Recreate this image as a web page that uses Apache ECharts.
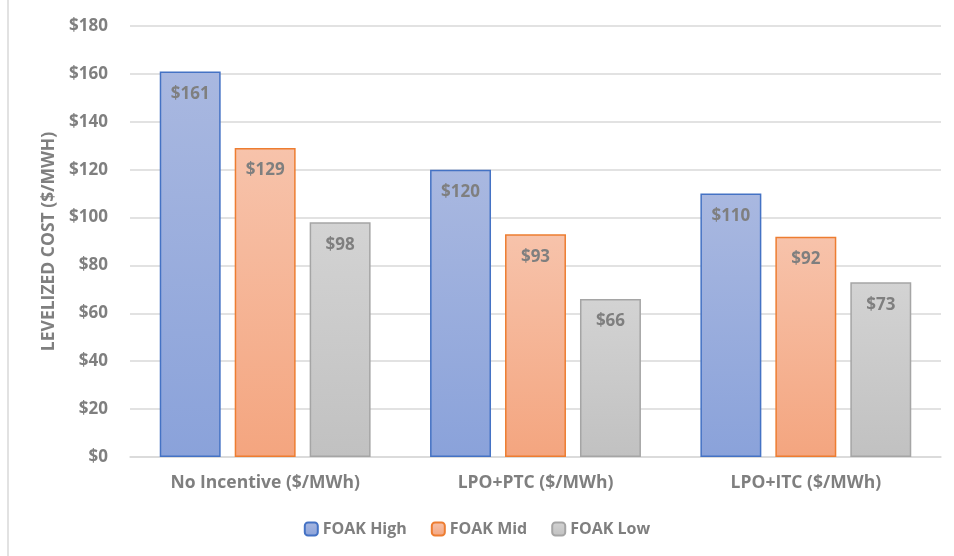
<!DOCTYPE html>
<html>
<head>
<meta charset="utf-8">
<script src="https://cdn.jsdelivr.net/npm/echarts@6/dist/echarts.min.js"></script>
<style>
  html, body { margin: 0; padding: 0; background: #fff; }
  #chart { width: 954px; height: 556px; }
</style>
</head>
<body>
<div id="chart"></div>
<script>
// data
var categories = ['No Incentive ($/MWh)', 'LPO+PTC ($/MWh)', 'LPO+ITC ($/MWh)'];
var foakHigh = [161, 120, 110];
var foakMid = [129, 93, 92];
var foakLow = [98, 66, 73];

var font = '"Open Sans", "Noto Sans", sans-serif';
var grey = '#7f7f7f';

function grad(top, bottom) {
    return new echarts.graphic.LinearGradient(0, 0, 0, 1, [
        { offset: 0, color: top },
        { offset: 1, color: bottom }
    ]);
}

function barSeries(name, data, top, bottom, border) {
    return {
        name: name,
        type: 'bar',
        data: data,
        barGap: '23%',
        barCategoryGap: '22%',
        itemStyle: {
            color: grad(top, bottom),
            borderColor: border,
            borderWidth: 1.5
        },
        label: {
            show: true,
            position: 'insideTop',
            distance: 14,
            formatter: '${c}',
            color: grey,
            fontFamily: font,
            fontWeight: 'bold',
            fontSize: 17
        }
    };
}

var chart = echarts.init(document.getElementById('chart'), null, { renderer: 'canvas' });

chart.setOption({
    animation: false,
    textStyle: { fontFamily: font },
    grid: { left: 130, right: 13, top: 26, bottom: 99, containLabel: false },
    legend: {
        bottom: 14,
        left: 'center',
        itemWidth: 13,
        itemHeight: 13,
        itemGap: 24,
        textStyle: { color: grey, fontFamily: font, fontWeight: 'bold', fontSize: 16 },
        data: ['FOAK High', 'FOAK Mid', 'FOAK Low']
    },
    xAxis: {
        type: 'category',
        data: categories,
        axisLine: { lineStyle: { color: '#d9d9d9', width: 1.5 } },
        axisTick: { show: false },
        axisLabel: { color: grey, fontFamily: font, fontWeight: 'bold', fontSize: 17.5, margin: 17 }
    },
    yAxis: {
        type: 'value',
        min: 0,
        max: 180,
        interval: 20,
        name: 'LEVELIZED COST ($/MWH)',
        nameLocation: 'middle',
        nameGap: 72,
        nameTextStyle: { color: grey, fontFamily: font, fontWeight: 'bold', fontSize: 17.5 },
        axisLine: { show: false },
        axisTick: { show: false },
        axisLabel: { color: grey, fontFamily: font, fontWeight: 'bold', fontSize: 17, margin: 22, formatter: '${value}' },
        splitLine: { lineStyle: { color: '#d9d9d9', width: 1.5 } }
    },
    graphic: [{
        type: 'line',
        shape: { x1: 8, y1: 0, x2: 8, y2: 556 },
        style: { stroke: '#d9d9d9', lineWidth: 1.5 }
    }],
    series: [
        barSeries('FOAK High', foakHigh, '#a9b8e0', '#8aa2da', '#4472c4'),
        barSeries('FOAK Mid', foakMid, '#f7c3ab', '#f4a57f', '#ed7d31'),
        barSeries('FOAK Low', foakLow, '#d3d3d3', '#c1c1c1', '#a5a5a5')
    ]
});
</script>
</body>
</html>
